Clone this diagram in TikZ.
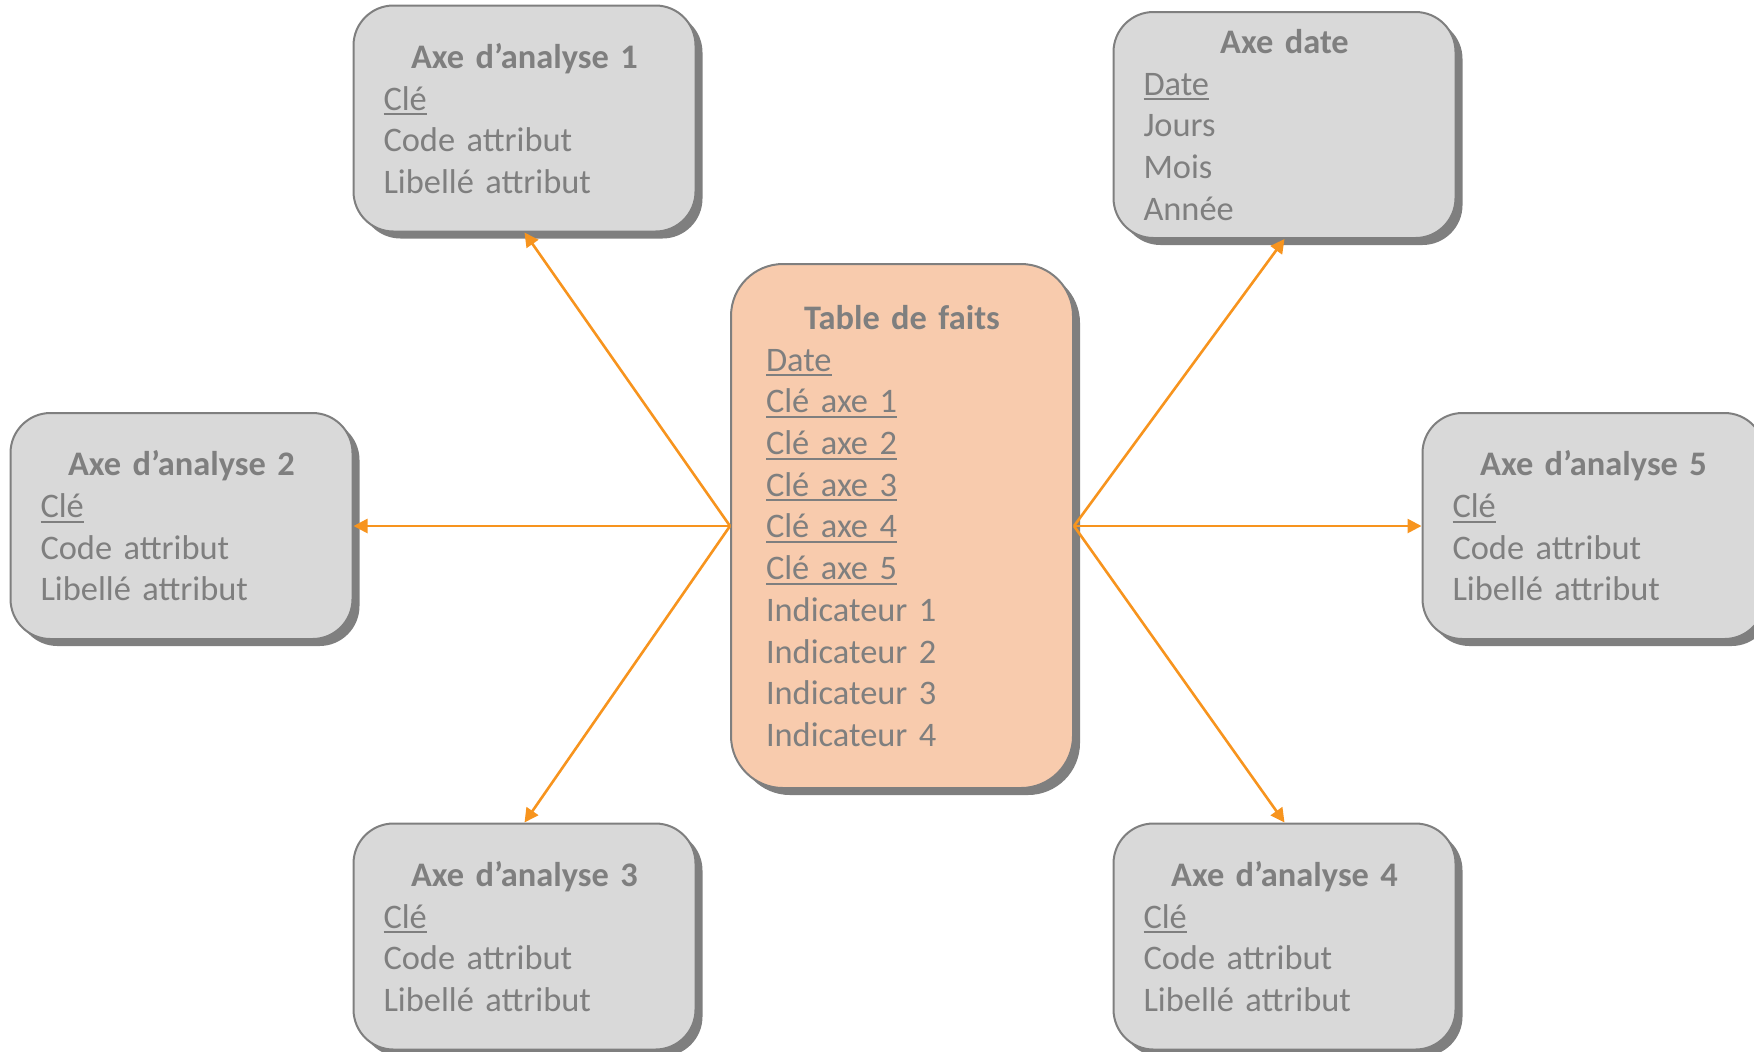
\documentclass[tikz,border=0pt]{standalone}
\usepackage{fontspec}
\setmainfont{Carlito}[WordSpace=0.8]
\usetikzlibrary{arrows.meta,shadows}

\definecolor{txtgray}{HTML}{7F7F7F}
\definecolor{bordgray}{HTML}{7F7F7F}
\definecolor{shadowgray}{HTML}{7F7F7F}
\definecolor{boxgray}{HTML}{D9D9D9}
\definecolor{factfill}{HTML}{F8CBAD}
\definecolor{linkorange}{HTML}{F7941E}

% underlined key field
\newcommand{\souligne}[1]{\leavevmode\setbox0\hbox{#1}\rlap{\rule[-2.6pt]{\wd0}{1pt}}\box0}
% centred bold heading of a table
\newcommand{\titre}[1]{\leavevmode\makebox[\hsize][c]{\bfseries #1}}
\newcommand{\tablefont}{\fontsize{17.2pt}{20.85pt}\selectfont}

\tikzset{
  tablebox/.style={draw=bordgray, line width=1pt, fill=boxgray,
    rounded corners=20pt, minimum width=171pt, minimum height=113pt,
    text width=141pt, align=left, text=txtgray,
    font=\tablefont,
    drop shadow={shadow xshift=3.5pt, shadow yshift=-3.5pt,
      fill=shadowgray, opacity=1}},
  factbox/.style={tablebox, fill=factfill, rounded corners=26pt,
    minimum height=262pt, text width=136pt},
  link/.style={draw=linkorange, line width=1.3pt,
    -{Triangle[length=7pt,width=7pt]}}
}

\begin{document}
\begin{tikzpicture}[x=0.5pt, y=-0.5pt]
  \useasboundingbox (0,0) rectangle (1754,1051);
  \clip (0,0) rectangle (1754,1051);

  % fact table
  \node[factbox] (fact) at (902,526) {\titre{Table de faits}\\
    \souligne{Date}\\ \souligne{Clé axe 1}\\ \souligne{Clé axe 2}\\
    \souligne{Clé axe 3}\\ \souligne{Clé axe 4}\\ \souligne{Clé axe 5}\\
    Indicateur 1\\ Indicateur 2\\ Indicateur 3\\ Indicateur 4};

  % dimension tables
  \node[tablebox] (ax1) at (524.5,118.5) {\titre{Axe d’analyse 1}\\
    \souligne{Clé}\\ Code attribut\\ Libellé attribut};
  \node[tablebox] (axd) at (1284.5,125) {\titre{Axe date}\\
    \souligne{Date}\\ Jours\\ Mois\\ Année};
  \node[tablebox] (ax2) at (181.5,526) {\titre{Axe d’analyse 2}\\
    \souligne{Clé}\\ Code attribut\\ Libellé attribut};
  \node[tablebox] (ax5) at (1593.5,526) {\titre{Axe d’analyse 5}\\
    \souligne{Clé}\\ Code attribut\\ Libellé attribut};
  \node[tablebox] (ax3) at (524.5,936.5) {\titre{Axe d’analyse 3}\\
    \souligne{Clé}\\ Code attribut\\ Libellé attribut};
  \node[tablebox] (ax4) at (1284.5,936.5) {\titre{Axe d’analyse 4}\\
    \souligne{Clé}\\ Code attribut\\ Libellé attribut};

  % links from the fact table to each dimension
  \draw[link] (fact.west) -- (ax1.south);
  \draw[link] (fact.west) -- (ax2.east);
  \draw[link] (fact.west) -- (ax3.north);
  \draw[link] (fact.east) -- (axd.south);
  \draw[link] (fact.east) -- (ax5.west);
  \draw[link] (fact.east) -- (ax4.north);
\end{tikzpicture}
\end{document}
